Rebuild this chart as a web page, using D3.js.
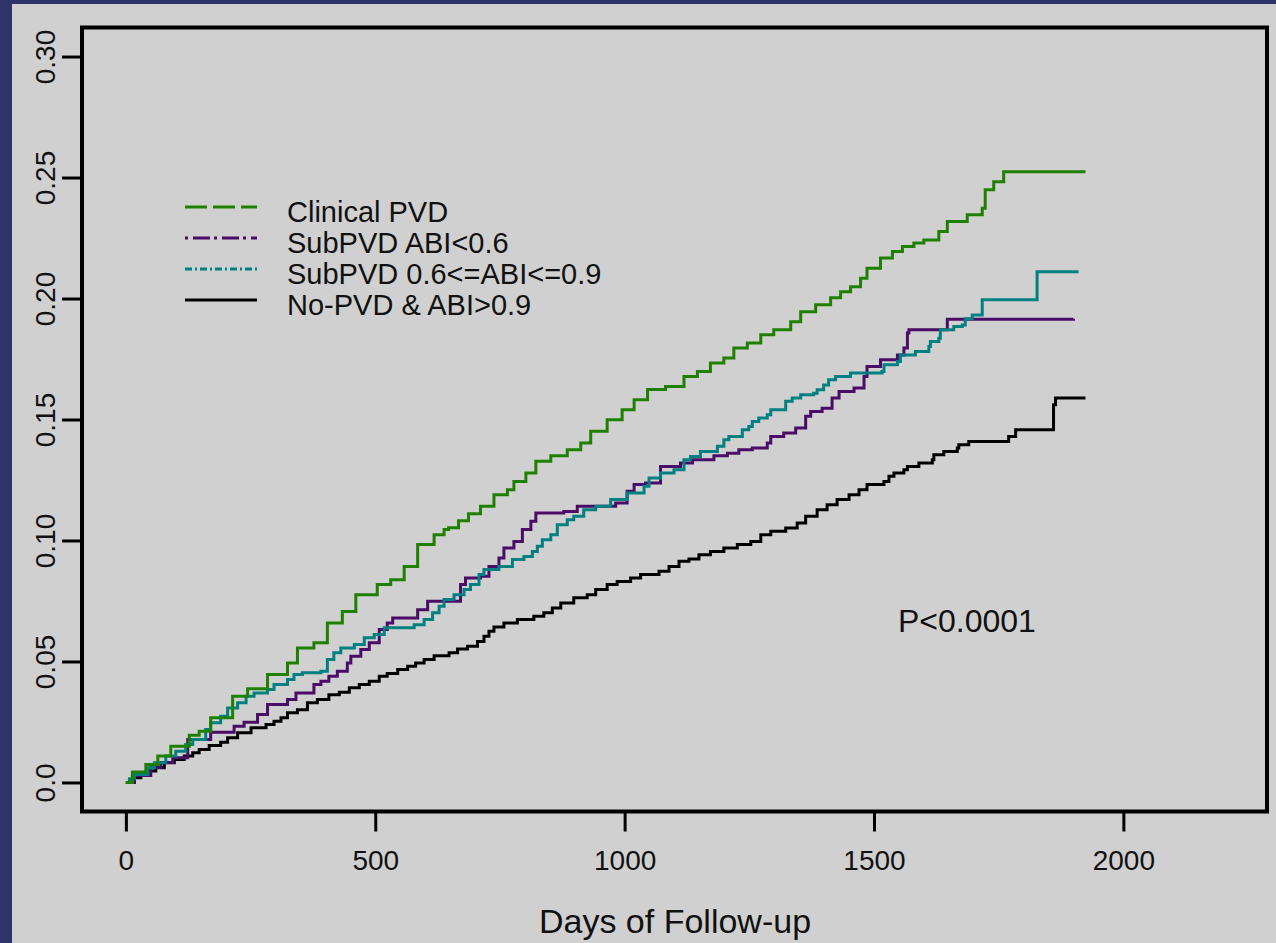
<!DOCTYPE html>
<html>
<head>
<meta charset="utf-8">
<script src="https://cdn.jsdelivr.net/npm/d3@7"></script>
<style>
  body { margin: 0; background: #d0d0d0; }
  svg { display: block; }
  text { font-family: "Liberation Sans", Arial, sans-serif; fill: #111; }
</style>
</head>
<body>
<div id="chart"></div>
<script>
// Cumulative incidence by PVD / ABI group (step curves)

const seriesNames = ["Clinical PVD", "SubPVD ABI<0.6", "SubPVD 0.6<=ABI<=0.9", "No-PVD & ABI>0.9"];
const xTicks = [0, 500, 1000, 1500, 2000];
const yTicks = [0.0, 0.05, 0.10, 0.15, 0.20, 0.25, 0.30];
const yTickLabels = ["0.0", "0.05", "0.10", "0.15", "0.20", "0.25", "0.30"];

const clinicalDays = [0, 13, 40, 64, 90, 127, 147, 170, 214, 244, 284, 324, 344, 377, 404, 434, 461, 504, 531, 558, 585, 618, 638, 647, 667, 687, 711, 738, 765, 778, 802, 822, 852, 885, 912, 932, 965, 995, 1019, 1046, 1082, 1119, 1146, 1172, 1199, 1219, 1246, 1273, 1299, 1333, 1353, 1383, 1413, 1433, 1453, 1473, 1486, 1513, 1537, 1557, 1580, 1600, 1630, 1647, 1687, 1717, 1723, 1740, 1760, 1924];
const clinicalInc = [0, 0.0043, 0.0074, 0.0109, 0.0150, 0.0195, 0.0212, 0.0267, 0.0356, 0.0387, 0.0446, 0.0494, 0.0556, 0.0577, 0.0659, 0.0707, 0.0776, 0.0818, 0.0838, 0.0893, 0.0983, 0.1024, 0.1045, 0.1053, 0.1082, 0.1111, 0.1141, 0.1189, 0.1210, 0.1244, 0.1279, 0.1327, 0.1350, 0.1375, 0.1403, 0.1451, 0.1499, 0.1540, 0.1582, 0.1624, 0.1636, 0.1678, 0.1698, 0.1733, 0.1754, 0.1795, 0.1816, 0.1850, 0.1871, 0.1904, 0.1945, 0.1974, 0.2003, 0.2028, 0.2049, 0.2084, 0.2125, 0.2167, 0.2194, 0.2215, 0.2229, 0.2242, 0.2277, 0.2318, 0.2346, 0.2373, 0.2449, 0.2483, 0.2524, 0.2524];

const abiLowDays = [0, 17, 50, 70, 94, 124, 170, 217, 237, 264, 284, 324, 341, 377, 391, 407, 424, 444, 451, 471, 488, 508, 524, 535, 571, 585, 605, 645, 671, 681, 711, 728, 748, 758, 778, 795, 812, 822, 878, 905, 965, 982, 1005, 1019, 1042, 1072, 1112, 1136, 1179, 1206, 1229, 1256, 1286, 1293, 1319, 1343, 1363, 1373, 1396, 1416, 1430, 1460, 1480, 1486, 1513, 1547, 1560, 1567, 1570, 1627, 1647, 1900];
const abiLowInc = [0, 0.0029, 0.0062, 0.0083, 0.0102, 0.0178, 0.0208, 0.0232, 0.0249, 0.0281, 0.0322, 0.0343, 0.0370, 0.0405, 0.0418, 0.0439, 0.0460, 0.0494, 0.0522, 0.0549, 0.0577, 0.0632, 0.0659, 0.0680, 0.0680, 0.0714, 0.0749, 0.0749, 0.0818, 0.0845, 0.0852, 0.0893, 0.0928, 0.0969, 0.0996, 0.1045, 0.1079, 0.1114, 0.1120, 0.1141, 0.1141, 0.1155, 0.1203, 0.1231, 0.1238, 0.1306, 0.1320, 0.1334, 0.1350, 0.1361, 0.1375, 0.1382, 0.1403, 0.1430, 0.1444, 0.1465, 0.1513, 0.1533, 0.1547, 0.1589, 0.1616, 0.1630, 0.1678, 0.1719, 0.1747, 0.1767, 0.1795, 0.1857, 0.1871, 0.1871, 0.1914, 0.1916];

const abiMidDays = [0, 7, 17, 44, 57, 80, 100, 120, 134, 160, 170, 190, 204, 224, 241, 257, 284, 297, 324, 337, 354, 391, 404, 417, 431, 458, 478, 498, 518, 578, 598, 615, 628, 638, 658, 678, 691, 708, 718, 748, 775, 798, 815, 825, 835, 852, 865, 885, 898, 918, 942, 972, 1005, 1039, 1049, 1072, 1099, 1119, 1132, 1152, 1186, 1199, 1209, 1236, 1249, 1256, 1269, 1286, 1293, 1323, 1336, 1353, 1379, 1386, 1399, 1409, 1423, 1453, 1516, 1520, 1547, 1553, 1583, 1610, 1613, 1630, 1633, 1660, 1677, 1683, 1697, 1717, 1827, 1910];
const abiMidInc = [0, 0.0015, 0.0033, 0.0061, 0.0081, 0.0109, 0.0129, 0.0157, 0.0178, 0.0219, 0.0247, 0.0274, 0.0308, 0.0329, 0.0356, 0.0370, 0.0384, 0.0405, 0.0425, 0.0446, 0.0453, 0.0460, 0.0508, 0.0536, 0.0556, 0.0570, 0.0598, 0.0611, 0.0639, 0.0652, 0.0673, 0.0701, 0.0728, 0.0756, 0.0776, 0.0797, 0.0818, 0.0859, 0.0880, 0.0893, 0.0921, 0.0934, 0.0955, 0.0976, 0.1003, 0.1024, 0.1065, 0.1086, 0.1100, 0.1127, 0.1141, 0.1169, 0.1196, 0.1224, 0.1258, 0.1279, 0.1292, 0.1334, 0.1347, 0.1368, 0.1389, 0.1416, 0.1430, 0.1458, 0.1471, 0.1492, 0.1506, 0.1520, 0.1540, 0.1575, 0.1589, 0.1602, 0.1609, 0.1623, 0.1643, 0.1664, 0.1678, 0.1692, 0.1698, 0.1726, 0.1740, 0.1767, 0.1781, 0.1802, 0.1822, 0.1836, 0.1871, 0.1884, 0.1891, 0.1916, 0.1932, 0.1995, 0.2111, 0.2111];

const noPvdDays = [0, 17, 30, 44, 60, 77, 97, 117, 134, 147, 167, 190, 204, 224, 251, 281, 297, 311, 324, 344, 364, 384, 407, 428, 448, 468, 488, 508, 524, 545, 565, 581, 598, 618, 648, 665, 685, 705, 718, 728, 738, 758, 785, 818, 838, 855, 872, 898, 925, 942, 965, 985, 1012, 1032, 1069, 1089, 1109, 1129, 1149, 1172, 1199, 1226, 1253, 1273, 1293, 1323, 1346, 1363, 1386, 1406, 1426, 1450, 1470, 1486, 1520, 1530, 1540, 1560, 1567, 1590, 1617, 1620, 1640, 1667, 1670, 1690, 1767, 1770, 1784, 1857, 1860, 1864, 1924];
const noPvdInc = [0, 0.0019, 0.0033, 0.0047, 0.0061, 0.0081, 0.0095, 0.0109, 0.0123, 0.0136, 0.0153, 0.0166, 0.0185, 0.0205, 0.0226, 0.0240, 0.0253, 0.0267, 0.0288, 0.0301, 0.0329, 0.0343, 0.0363, 0.0373, 0.0391, 0.0405, 0.0418, 0.0439, 0.0450, 0.0467, 0.0480, 0.0494, 0.0508, 0.0524, 0.0536, 0.0552, 0.0563, 0.0583, 0.0604, 0.0625, 0.0642, 0.0659, 0.0673, 0.0687, 0.0701, 0.0721, 0.0742, 0.0763, 0.0776, 0.0797, 0.0818, 0.0831, 0.0845, 0.0859, 0.0873, 0.0893, 0.0914, 0.0924, 0.0941, 0.0955, 0.0969, 0.0983, 0.0996, 0.1024, 0.1038, 0.1052, 0.1072, 0.1100, 0.1127, 0.1148, 0.1169, 0.1189, 0.1210, 0.1231, 0.1244, 0.1265, 0.1279, 0.1292, 0.1306, 0.1320, 0.1334, 0.1354, 0.1368, 0.1382, 0.1396, 0.1409, 0.1409, 0.1430, 0.1458, 0.1458, 0.1561, 0.1589, 0.1589];

const width = 1276, height = 943;

const curves = [
  { name: seriesNames[0], days: clinicalDays, inc: clinicalInc, color: "#1f8000", dash: "22,6" },
  { name: seriesNames[1], days: abiLowDays, inc: abiLowInc, color: "#4a0c66", dash: "3,5,17,4" },
  { name: seriesNames[2], days: abiMidDays, inc: abiMidInc, color: "#008080", dash: "7,3,2,3" },
  { name: seriesNames[3], days: noPvdDays, inc: noPvdInc, color: "#000000", dash: null }
];

const svg = d3.select("#chart").append("svg")
  .attr("width", width)
  .attr("height", height);

// page background with navy edge
svg.append("rect").attr("width", width).attr("height", height).attr("fill", "#d0d0d0");
svg.append("rect").attr("width", 12).attr("height", height).attr("fill", "#2f3468");
svg.append("rect").attr("width", width).attr("height", 4).attr("fill", "#2f3468");

const x = d3.scaleLinear().domain([-88, 2288]).range([82, 1267]);
const y = d3.scaleLinear().domain([-0.012, 0.312]).range([811.5, 27.5]);

// x axis
const xAxis = svg.append("g")
  .attr("transform", `translate(0,${y.range()[0]})`)
  .call(d3.axisBottom(x).tickValues(xTicks).tickSize(20).tickSizeOuter(0).tickFormat(d3.format("d")));
xAxis.select(".domain").remove();
xAxis.selectAll(".tick line").attr("stroke", "#000").attr("stroke-width", 3);
xAxis.selectAll(".tick text")
  .attr("y", 58).attr("dy", 0)
  .style("font-size", "28px");

// y axis with rotated labels
const yAxis = svg.append("g")
  .attr("transform", `translate(${x.range()[0]},0)`)
  .call(d3.axisLeft(y).tickValues(yTicks).tickSize(20).tickSizeOuter(0)
    .tickFormat((d, i) => yTickLabels[i]));
yAxis.select(".domain").remove();
yAxis.selectAll(".tick line").attr("stroke", "#000").attr("stroke-width", 3);
yAxis.selectAll(".tick text")
  .attr("x", null).attr("dy", 0)
  .attr("transform", "translate(-27,0) rotate(-90)")
  .attr("text-anchor", "middle")
  .style("font-size", "28px");

// curves
const line = d3.line()
  .x(d => x(d[0]))
  .y(d => y(d[1]))
  .curve(d3.curveStepAfter);

const drawOrder = [3, 1, 2, 0];
drawOrder.forEach(i => {
  const c = curves[i];
  svg.append("path")
    .datum(c.days.map((d, j) => [d, c.inc[j]]))
    .attr("fill", "none")
    .attr("stroke", c.color)
    .attr("stroke-width", 3)
    .attr("d", line);
});

// plot frame
svg.append("rect")
  .attr("x", x.range()[0]).attr("y", y.range()[1])
  .attr("width", x.range()[1] - x.range()[0])
  .attr("height", y.range()[0] - y.range()[1])
  .attr("fill", "none")
  .attr("stroke", "#000")
  .attr("stroke-width", 4);

// legend
const legend = svg.append("g").attr("transform", "translate(185,207)");
curves.forEach((c, i) => {
  const row = legend.append("g").attr("transform", `translate(0,${i * 31})`);
  row.append("line")
    .attr("x1", 0).attr("x2", 72)
    .attr("stroke", c.color)
    .attr("stroke-width", 3)
    .attr("stroke-dasharray", c.dash);
  row.append("text")
    .attr("x", 102).attr("y", 15)
    .style("font-size", "29px")
    .text(c.name);
});

// p-value
svg.append("text")
  .attr("x", 898).attr("y", 632)
  .style("font-size", "32px")
  .text("P<0.0001");

// axis title
svg.append("text")
  .attr("x", 675).attr("y", 933)
  .attr("text-anchor", "middle")
  .style("font-size", "34px")
  .text("Days of Follow-up");
</script>
</body>
</html>
